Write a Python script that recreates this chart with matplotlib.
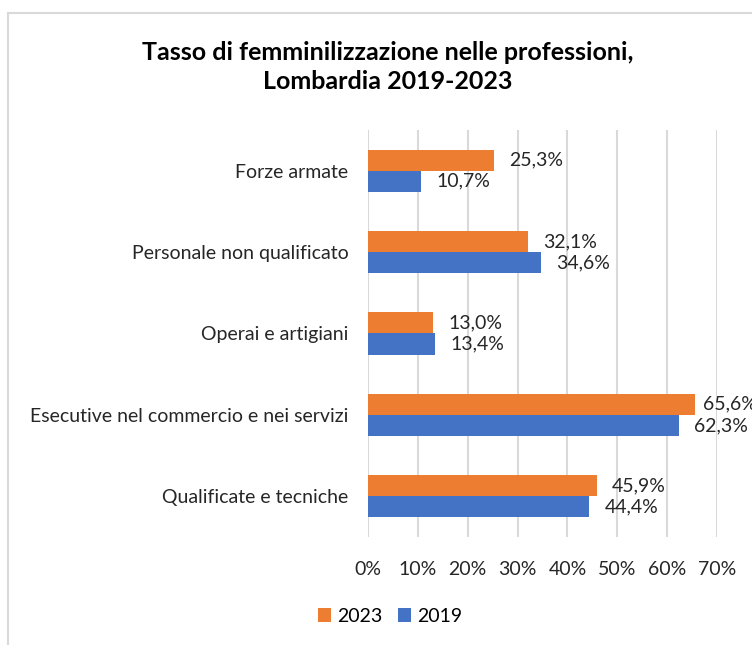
import matplotlib.pyplot as plt
from matplotlib.lines import Line2D

# dati (percentuali)
categorie = ["Forze armate", "Personale non qualificato", "Operai e artigiani",
             "Esecutive nel commercio e nei servizi", "Qualificate e tecniche"]
valori_2023 = [25.3, 32.1, 13.0, 65.6, 45.9]
valori_2019 = [10.7, 34.6, 13.4, 62.3, 44.4]
tick_valori = [0, 10, 20, 30, 40, 50, 60, 70]

arancio = "#ED7D31"
blu = "#4472C4"
grigio = "#D9D9D9"
testo = "#262626"

plt.rcParams['font.family'] = ['Lato', 'DejaVu Sans']

fig = plt.figure(figsize=(7.52, 6.45), dpi=100)
ax = fig.add_axes([368 / 752, 1 - 537 / 645, (717 - 368) / 752, (537 - 130) / 645])

h = 0.26
pos = list(range(len(categorie)))
pos_2023 = [p - h / 2 for p in pos]
pos_2019 = [p + h / 2 for p in pos]
ax.barh(pos_2023, valori_2023, height=h, color=arancio, label="2023", zorder=3)
ax.barh(pos_2019, valori_2019, height=h, color=blu, label="2019", zorder=3)

def etichetta(v):
    return f"{v:.1f}%".replace(".", ",")

for ys, vs in [(pos_2023, valori_2023), (pos_2019, valori_2019)]:
    for y, v in zip(ys, vs):
        # come in Excel l'etichetta vicino al bordo viene avvicinata alla barra
        off = 6 if v > 65 else 11
        ax.annotate(etichetta(v), (v, y), xytext=(off, 0), textcoords="offset points",
                    va="center", ha="left", fontsize=14, color=testo, annotation_clip=False)

ax.set_xlim(0, 70)
ax.set_ylim(len(categorie) - 0.5, -0.5)
ax.set_yticks(pos)
ax.set_yticklabels(categorie, fontsize=14, color=testo)
ax.set_xticks(tick_valori)
ax.set_xticklabels([f"{t}%" for t in tick_valori], fontsize=14, color=testo)
ax.tick_params(length=0)
ax.tick_params(axis="x", pad=17)
ax.tick_params(axis="y", pad=14)
ax.grid(axis="x", color=grigio, linewidth=1.5, zorder=0)
for s in ax.spines.values():
    s.set_visible(False)

fig.text(388 / 752, 1 - 67 / 645, "Tasso di femminilizzazione nelle professioni,\nLombardia 2019-2023",
         ha="center", va="center", fontsize=18, fontweight="bold", linespacing=1.35, color="#000000")

fig.legend(loc="center", bbox_to_anchor=(390 / 752, 1 - 616 / 645), ncol=2, frameon=False,
           fontsize=14, handlelength=0.7, handleheight=0.7, columnspacing=0.8, handletextpad=0.3)

# bordo del grafico
fig.add_artist(Line2D([8 / 752, 8 / 752], [0, 1 - 13 / 645], color=grigio, linewidth=1.5))
fig.add_artist(Line2D([8 / 752, 1], [1 - 13 / 645, 1 - 13 / 645], color=grigio, linewidth=1.5))

fig.savefig("out.png", dpi=100)
